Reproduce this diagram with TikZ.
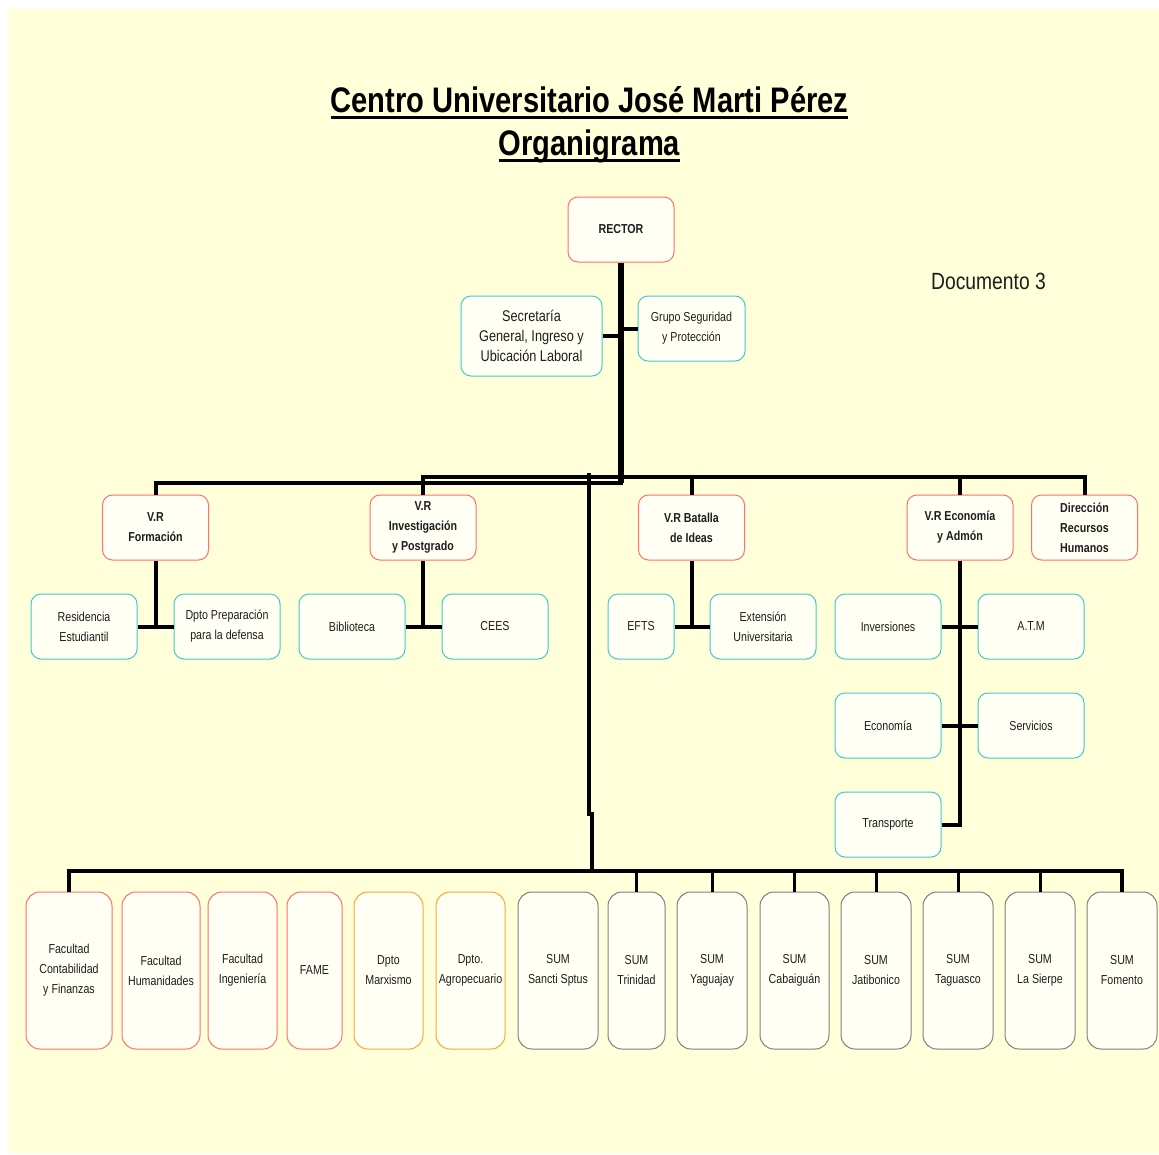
\documentclass[tikz,border=0pt]{standalone}
\usepackage{fontspec}
\setmainfont{Liberation Sans}[FakeStretch=0.82]
\usetikzlibrary{positioning}

\definecolor{bgyellow}{HTML}{FFFFD9}
\definecolor{boxfill}{HTML}{FFFFF4}
\definecolor{redline}{HTML}{FF7070}
\definecolor{cyanline}{HTML}{40CCCC}
\definecolor{orangeline}{HTML}{FFA630}
\definecolor{grayline}{HTML}{808080}
\definecolor{inkgray}{HTML}{1E1E1E}

% thick underline for the titles
\newcommand\titleul[1]{\leavevmode\vtop{\hbox{\raisebox{0pt}[\height][0pt]{#1}}\kern3.5pt\hrule height 3pt}}

\begin{document}
\begin{tikzpicture}[x=1pt,y=-1pt,
  box/.style={rounded corners=10pt,fill=boxfill,line width=1pt,
    minimum width=106pt,minimum height=65pt,inner sep=1pt,align=center,
    text=inkgray,font=\fontsize{13}{20}\selectfont},
  redbox/.style={box,draw=redline,font=\bfseries\fontsize{13}{20}\selectfont},
  cyanbox/.style={box,draw=cyanline},
  tallbox/.style={box,rounded corners=14pt,minimum height=157pt,draw=#1},
  link/.style={line width=4pt},
  trunk/.style={line width=6pt},
  drop/.style={line width=3pt}]

  \useasboundingbox (0,0) rectangle (1159,1154);
  \fill[white] (0,0) rectangle (1159,1154);
  \fill[bgyellow] (8,9) rectangle (1159,1153);

  % titles
  \node (title) [anchor=base,font=\bfseries\fontsize{35.5}{40}\selectfont] at (589.5,112) {\titleul{Centro Universitario José Marti Pérez}};
  \node (subtitle) [anchor=base,font=\bfseries\fontsize{35.5}{40}\selectfont] at (589.5,155) {\titleul{Organigrama}};
  \node (doc) [font=\fontsize{23.5}{28}\selectfont,text=inkgray] at (988.5,281) {Documento 3};

  % top
  \node (rector) [redbox] at (621,229.5) {RECTOR};
  \node (secretaria) [cyanbox,minimum width=141pt,minimum height=80pt,font=\fontsize{15.5}{20}\selectfont] at (531.5,336) {Secretaría\\General, Ingreso y\\Ubicación Laboral};
  \node (grupo) [cyanbox,minimum width=107pt] at (691.5,328.5) {Grupo Seguridad\\y Protección};

  % vice rectors
  \node (vrform) [redbox] at (155.5,527.5) {V.R\\Formación};
  \node (vrinv) [redbox] at (423,527.5) {V.R\\Investigación\\y Postgrado};
  \node (vrbat) [redbox] at (691.5,527.5) {V.R Batalla\\de Ideas};
  \node (vreco) [redbox] at (960,527.5) {V.R Economía\\y Admón};
  \node (dirrh) [redbox] at (1084.5,527.5) {Dirección\\Recursos\\Humanos};

  % departments
  \node (residencia) [cyanbox] at (84,626.5) {Residencia\\Estudiantil};
  \node (dptoprep) [cyanbox] at (227,626.5) {Dpto Preparación\\para la defensa};
  \node (biblioteca) [cyanbox] at (352,626.5) {Biblioteca};
  \node (cees) [cyanbox] at (495,626.5) {CEES};
  \node (efts) [cyanbox,minimum width=66pt] at (641,626.5) {EFTS};
  \node (extension) [cyanbox] at (763,626.5) {Extensión\\Universitaria};
  \node (inversiones) [cyanbox] at (888,626.5) {Inversiones};
  \node (atm) [cyanbox] at (1031,626.5) {A.T.M};
  \node (economia) [cyanbox] at (888,725.5) {Economía};
  \node (servicios) [cyanbox] at (1031,725.5) {Servicios};
  \node (transporte) [cyanbox] at (888,824.5) {Transporte};

  % bottom row
  \node (fcf) [tallbox=redline,minimum width=86pt] at (69,970.5) {Facultad\\Contabilidad\\y Finanzas};
  \node (fhum) [tallbox=redline,minimum width=78pt] at (161,970.5) {Facultad\\Humanidades};
  \node (fing) [tallbox=redline,minimum width=69pt] at (242.5,970.5) {Facultad\\Ingeniería};
  \node (fame) [tallbox=redline,minimum width=55pt] at (314.5,970.5) {FAME};
  \node (marx) [tallbox=orangeline,minimum width=69pt] at (388.5,970.5) {Dpto\\Marxismo};
  \node (agro) [tallbox=orangeline,minimum width=69pt] at (470.5,970.5) {Dpto.\\Agropecuario};
  \node (sancti) [tallbox=grayline,minimum width=80pt] at (558,970.5) {SUM\\Sancti Sptus};
  \node (trinidad) [tallbox=grayline,minimum width=57pt] at (636.5,970.5) {SUM\\Trinidad};
  \node (yaguajay) [tallbox=grayline,minimum width=70pt] at (712,970.5) {SUM\\Yaguajay};
  \node (cabaiguan) [tallbox=grayline,minimum width=69pt] at (794.5,970.5) {SUM\\Cabaiguán};
  \node (jatibonico) [tallbox=grayline,minimum width=70pt] at (876,970.5) {SUM\\Jatibonico};
  \node (taguasco) [tallbox=grayline,minimum width=70pt] at (958,970.5) {SUM\\Taguasco};
  \node (sierpe) [tallbox=grayline,minimum width=70pt] at (1040,970.5) {SUM\\La Sierpe};
  \node (fomento) [tallbox=grayline,minimum width=70pt] at (1122,970.5) {SUM\\Fomento};

  % hubs
  \coordinate (hubA) at (623,483);
  \coordinate (railB) at (700,477);
  \coordinate (spinetop) at (589,473);
  \coordinate (rowhub) at (592,871);

  % connectors
  \draw[trunk] (rector.south) -- (rector.south |- hubA);
  \draw[link] (secretaria.east) -- (secretaria.east -| rector.south);
  \draw[link] (grupo.west) -- (grupo.west -| rector.south);
  \draw[link] (vrform.north) |- (hubA);
  \draw[link] (vrinv.north) |- (railB) -| (dirrh.north);
  \draw[link] (vrbat.north) -- (vrbat.north |- railB);
  \draw[link] (vreco.north) -- (vreco.north |- railB);

  \draw[link] (vrform.south) -- (vrform.south |- residencia.east);
  \draw[link] (residencia.east) -- (dptoprep.west);
  \draw[link] (vrinv.south) -- (vrinv.south |- biblioteca.east);
  \draw[link] (biblioteca.east) -- (cees.west);
  \draw[link] (vrbat.south) -- (vrbat.south |- efts.east);
  \draw[link] (efts.east) -- (extension.west);
  \draw[link] (vreco.south) |- (transporte.east);
  \draw[link] (inversiones.east) -- (atm.west);
  \draw[link] (economia.east) -- (servicios.west);

  \draw[link] (spinetop) -- ++(0,341) -| (rowhub);
  \draw[link] (fcf.north) |- (rowhub) -| (fomento.north);
  \foreach \n in {trinidad,yaguajay,cabaiguan,jatibonico,taguasco,sierpe}
    \draw[drop] (\n.north) -- (\n.north |- rowhub);
\end{tikzpicture}
\end{document}
